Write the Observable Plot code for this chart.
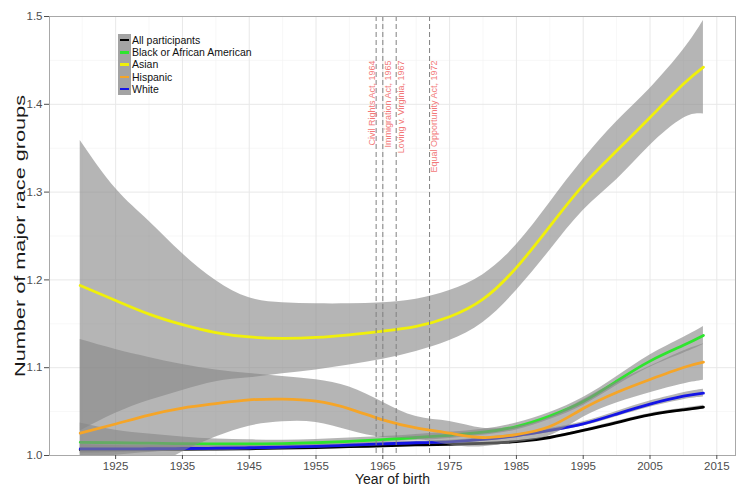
<!DOCTYPE html>
<html>
<head>
<meta charset="utf-8">
<script src="https://cdn.jsdelivr.net/npm/d3@7"></script>
<script src="https://cdn.jsdelivr.net/npm/@observablehq/plot@0.6"></script>
<style>
  html, body { margin: 0; padding: 0; background: #fff; }
  #wrap { position: relative; width: 738px; height: 486px; font-family: "Liberation Sans", Arial, Helvetica, sans-serif; }
  #legend { position: absolute; left: 118px; top: 34px; font-size: 10.5px; color: #111; }
  .row { display: flex; align-items: center; height: 12.2px; }
  .key { width: 13px; height: 12.2px; background: #a3a3a3; position: relative; margin-right: 1px; }
  .key span { position: absolute; left: 2px; right: 2px; top: 5px; height: 2.4px; }
</style>
</head>
<body>
<div id="wrap"><div id="chart"></div><div id="legend"></div></div>
<script>
// ---- data ----
const years = [1919.7, 1925, 1930, 1935, 1940, 1945, 1950, 1955, 1960, 1965, 1970, 1975, 1980, 1985, 1990, 1995, 2000, 2005, 2010, 2013];

const seriesNames = ["All participants", "Black or African American", "Asian", "Hispanic", "White"];
const seriesColors = ["#000000", "#2ee52e", "#f0f00a", "#f5a528", "#1414e6"];

const allMean = [1.0065, 1.0066, 1.0068, 1.007, 1.0073, 1.0077, 1.0083, 1.009, 1.010, 1.011, 1.012, 1.0128, 1.0138, 1.0158, 1.0205, 1.0285, 1.0375, 1.0463, 1.052, 1.055];
const allHi   = [1.0085, 1.0082, 1.0082, 1.0083, 1.0085, 1.0088, 1.0094, 1.0101, 1.011, 1.012, 1.013, 1.0138, 1.0148, 1.0168, 1.0216, 1.0297, 1.0389, 1.0479, 1.0538, 1.0572];
const allLo   = [1.0045, 1.005, 1.0054, 1.0057, 1.0061, 1.0066, 1.0072, 1.0079, 1.009, 1.01, 1.011, 1.0118, 1.0128, 1.0148, 1.0194, 1.0273, 1.0361, 1.0447, 1.0502, 1.0528];

const blackMean = [1.015, 1.0145, 1.014, 1.0135, 1.0133, 1.0133, 1.0135, 1.0145, 1.016, 1.018, 1.0205, 1.023, 1.0265, 1.033, 1.045, 1.0615, 1.0846, 1.1075, 1.1255, 1.1367];
const blackHi   = [1.037, 1.0288, 1.0245, 1.021, 1.0188, 1.0178, 1.0175, 1.0182, 1.0198, 1.0215, 1.024, 1.0265, 1.030, 1.037, 1.049, 1.066, 1.0896, 1.1145, 1.1345, 1.147];
const blackLo   = [0.993, 1.0002, 1.0035, 1.006, 1.0078, 1.0088, 1.0095, 1.0108, 1.0122, 1.0145, 1.017, 1.0195, 1.023, 1.029, 1.041, 1.057, 1.0796, 1.1005, 1.1165, 1.1264];

const asianMean = [1.1936, 1.1765, 1.161, 1.149, 1.140, 1.135, 1.1335, 1.1345, 1.1375, 1.1416, 1.147, 1.158, 1.178, 1.214, 1.261, 1.308, 1.347, 1.385, 1.423, 1.4423];
const asianHi   = [1.3588, 1.304, 1.2669, 1.230, 1.1993, 1.1796, 1.174, 1.1728, 1.1728, 1.174, 1.178, 1.188, 1.206, 1.240, 1.288, 1.337, 1.380, 1.418, 1.462, 1.4954];
const asianLo   = [1.028, 1.048, 1.0626, 1.074, 1.084, 1.0885, 1.093, 1.0975, 1.103, 1.1095, 1.1185, 1.131, 1.1515, 1.188, 1.2335, 1.279, 1.314, 1.353, 1.384, 1.389];

const hispMean = [1.0254, 1.0359, 1.0461, 1.054, 1.0592, 1.0634, 1.0642, 1.0619, 1.0532, 1.0406, 1.0315, 1.0254, 1.0205, 1.0239, 1.033, 1.0535, 1.0718, 1.0866, 1.1002, 1.1063];
const hispHi   = [1.132, 1.1207, 1.1116, 1.1036, 1.0974, 1.0934, 1.090, 1.0862, 1.078, 1.0607, 1.0444, 1.0387, 1.031, 1.033, 1.0436, 1.0635, 1.0838, 1.1016, 1.119, 1.127];
const hispLo   = [0.919, 0.951, 0.981, 1.004, 1.021, 1.0334, 1.0384, 1.0376, 1.0284, 1.0205, 1.0186, 1.0121, 1.010, 1.0148, 1.0224, 1.0435, 1.0598, 1.0716, 1.0814, 1.0856];

const whiteMean = [1.0075, 1.0075, 1.0077, 1.008, 1.0083, 1.0088, 1.0095, 1.0105, 1.0118, 1.0132, 1.0145, 1.0155, 1.0183, 1.0225, 1.0285, 1.036, 1.0472, 1.0585, 1.0675, 1.071];
const whiteHi   = [1.0125, 1.0115, 1.0112, 1.011, 1.0111, 1.0113, 1.0117, 1.0125, 1.0138, 1.0152, 1.0165, 1.0175, 1.0203, 1.0245, 1.0307, 1.0385, 1.0502, 1.062, 1.0715, 1.0755];
const whiteLo   = [1.0025, 1.0035, 1.0042, 1.005, 1.0055, 1.0063, 1.0073, 1.0085, 1.0098, 1.0112, 1.0125, 1.0135, 1.0163, 1.0205, 1.0263, 1.0335, 1.0442, 1.055, 1.0635, 1.0665];

const eventYears  = [1964, 1965, 1967, 1972];
const eventLabels = ["Civil Rights Act, 1964", "Immigration Act, 1965", "Loving v. Virginia, 1967", "Equal Opportunity Act, 1972"];
const eventLabelY = 1.45;

const xTicks = [1925, 1935, 1945, 1955, 1965, 1975, 1985, 1995, 2005, 2015];
const xMinor = [1920, 1930, 1940, 1950, 1960, 1970, 1980, 1990, 2000, 2010];
const yTicks = [1.0, 1.1, 1.2, 1.3, 1.4, 1.5];
const yMinor = [1.05, 1.15, 1.25, 1.35, 1.45];

const xTitle = "Year of birth";
const yTitle = "Number of major race groups";

// ---- build tables ----
const seriesData = {
  "All participants": [allMean, allLo, allHi],
  "Black or African American": [blackMean, blackLo, blackHi],
  "Asian": [asianMean, asianLo, asianHi],
  "Hispanic": [hispMean, hispLo, hispHi],
  "White": [whiteMean, whiteLo, whiteHi]
};
function rowsFor(name) {
  const [m, lo, hi] = seriesData[name];
  return years.map((yr, i) => ({series: name, year: yr, mean: m[i], lo: lo[i], hi: hi[i]}));
}
const drawOrder = ["All participants", "Black or African American", "White", "Asian", "Hispanic"];
const events = eventYears.map((yr, i) => ({year: yr, label: eventLabels[i]}));

const seriesMarks = [];
for (const name of drawOrder) {
  const rows = rowsFor(name);
  const col = seriesColors[seriesNames.indexOf(name)];
  seriesMarks.push(Plot.areaY(rows, {x: "year", y1: "lo", y2: "hi", fill: "#878787", fillOpacity: 0.62, curve: "natural", clip: true}));
  seriesMarks.push(Plot.line(rows, {x: "year", y: "mean", stroke: col, strokeWidth: 2.8, curve: "natural", clip: true}));
}

const chart = Plot.plot({
  width: 738,
  height: 486,
  marginLeft: 49,
  marginRight: 3,
  marginTop: 16,
  marginBottom: 31,
  style: {fontFamily: "'Liberation Sans', Arial, Helvetica, sans-serif", background: "#fff"},
  x: {domain: [1915.1, 2017.8]},
  y: {domain: [1, 1.5]},
  marks: [
    Plot.gridX(xMinor, {stroke: "#f2f2f2", strokeOpacity: 1, strokeWidth: 0.6}),
    Plot.gridY(yMinor, {stroke: "#f2f2f2", strokeOpacity: 1, strokeWidth: 0.6}),
    Plot.gridX(xTicks, {stroke: "#e8e8e8", strokeOpacity: 1, strokeWidth: 1}),
    Plot.gridY(yTicks, {stroke: "#e8e8e8", strokeOpacity: 1, strokeWidth: 1}),
    ...seriesMarks,
    Plot.ruleX(events, {x: "year", stroke: "#808080", strokeWidth: 1, strokeDasharray: "5,3"}),
    Plot.text(events.filter((d, i) => i === 0), {x: "year", y: () => eventLabelY, text: "label", rotate: -90, textAnchor: "end", dx: -4.5, fill: "#f27878", fontSize: 9}),
    Plot.text(events.filter((d, i) => i > 0), {x: "year", y: () => eventLabelY, text: "label", rotate: -90, textAnchor: "end", dx: 5, fill: "#f27878", fontSize: 9}),
    Plot.frame({stroke: "#a8a8a8"}),
    Plot.axisX(xTicks, {tickFormat: d => String(d), tickSize: 4, tickPadding: 2, fontSize: 11.5, color: "#4d4d4d", label: null}),
    Plot.axisY(yTicks, {tickFormat: d => d.toFixed(1), tickSize: 5, tickPadding: 2, fontSize: 11.5, color: "#4d4d4d", label: null}),
    Plot.text([xTitle], {frameAnchor: "bottom", lineAnchor: "middle", dy: 24.5, fontSize: 14, fill: "#1a1a1a"}),
    Plot.text([yTitle], {frameAnchor: "left", textAnchor: "middle", lineAnchor: "middle", rotate: -90, dx: -29, fontSize: 14, fill: "#1a1a1a"})
  ]
});
document.getElementById("chart").appendChild(chart);

// stretch the rotated y title along its length as in the reference
d3.select(chart).selectAll("text").filter(function() { return this.textContent === yTitle; })
  .each(function() {
    const t = this.getAttribute("transform") || "";
    this.setAttribute("transform", t + " scale(1.55,1)");
  });

// legend
const legend = d3.select("#legend");
seriesNames.forEach((name, i) => {
  const row = legend.append("div").attr("class", "row");
  row.append("div").attr("class", "key").append("span").style("background", seriesColors[i]);
  row.append("div").text(name);
});
</script>
</body>
</html>
